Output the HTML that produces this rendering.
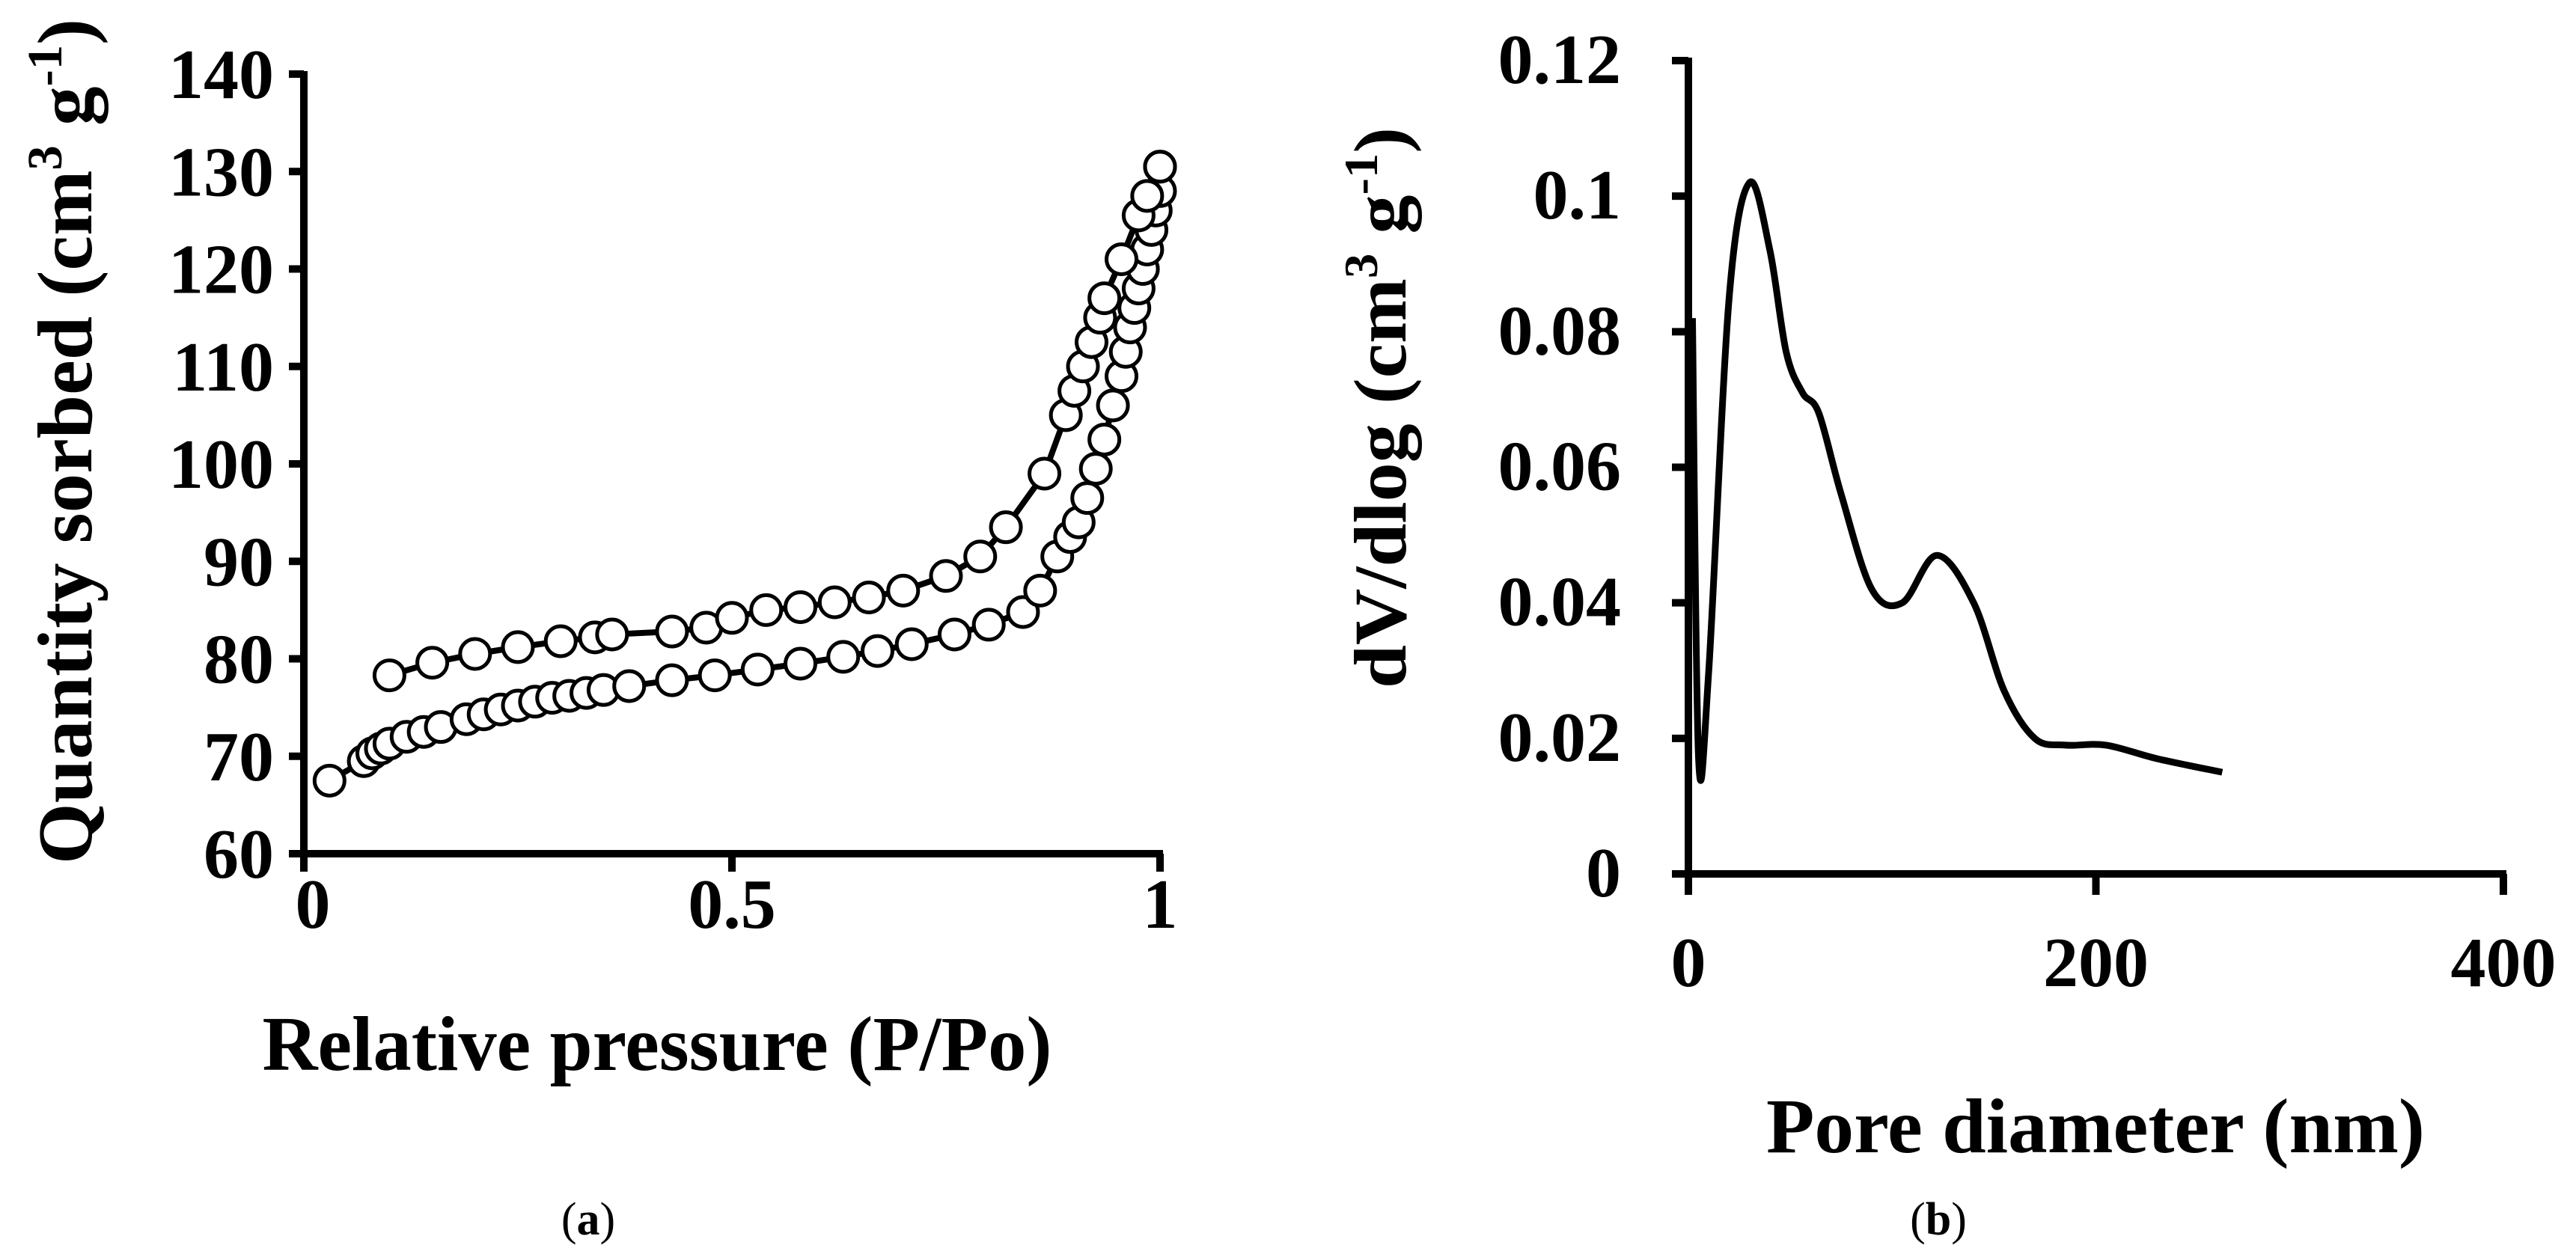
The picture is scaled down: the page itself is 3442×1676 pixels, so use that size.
<!DOCTYPE html>
<html><head><meta charset="utf-8"><style>
html,body{margin:0;padding:0;background:#fff;}
svg{display:block;font-family:"Liberation Serif",serif;}
</style></head><body>
<svg id="fig" width="3442" height="1676" viewBox="0 0 3442 1676" xmlns="http://www.w3.org/2000/svg">
<g id="chartA"></g>
<g id="chartB"></g>
<text x="786" y="1650" font-size="62" text-anchor="middle">(<tspan font-weight="bold">a</tspan>)</text>
<text x="2590" y="1650" font-size="62" text-anchor="middle">(<tspan font-weight="bold">b</tspan>)</text>
</svg>
<script>
// ---- Chart A data ----
const aTicksY = [60,70,80,90,100,110,120,130,140];
const aTicksX = [0,0.5,1];
const aTickLabelsX = ["0","0.5","1"];
const adsX = [0.03,0.07,0.08,0.09,0.1,0.12,0.14,0.16,0.19,0.21,0.23,0.25,0.27,0.29,0.31,0.33,0.35,0.38,0.43,0.48,0.53,0.58,0.63,0.67,0.71,0.76,0.8,0.84,0.86,0.88,0.895,0.905,0.915,0.925,0.935,0.945,0.955,0.96,0.965,0.97,0.975,0.98,0.985,0.99,0.995,1.0,1.0];
const adsY = [67.5,69.5,70.3,70.8,71.3,72,72.5,73,73.8,74.3,74.8,75.2,75.6,76,76.2,76.5,76.8,77.2,77.8,78.3,78.9,79.5,80.2,80.8,81.5,82.5,83.5,84.8,87,90.5,92.5,94,96.5,99.5,102.5,106,109,111.5,114,116,118,120,122,124,126,128,130.5];
const desX = [0.1,0.15,0.2,0.25,0.3,0.34,0.36,0.43,0.47,0.5,0.54,0.58,0.62,0.66,0.7,0.75,0.79,0.82,0.865,0.89,0.9,0.91,0.92,0.93,0.935,0.955,0.975,0.985,1.0];
const desY = [78.3,79.6,80.5,81.2,81.8,82.2,82.5,82.8,83.2,84.2,85,85.3,85.8,86.3,87,88.5,90.5,93.5,99,105,107.5,110,112.5,115,117,121,125.5,127.5,130.5];
// ---- Chart B data ----
const bTicksY = [0,0.02,0.04,0.06,0.08,0.1,0.12];
const bTickLabelsY = ["0","0.02","0.04","0.06","0.08","0.1","0.12"];
const bTicksX = [0,200,400];
const poreX = [2,5,10,20,30,40,48,56,64,75,90,105,122,140,155,170,185,205,230,262];
const poreY = [0.082,0.017,0.03,0.085,0.102,0.092,0.077,0.071,0.068,0.056,0.042,0.040,0.047,0.040,0.027,0.020,0.019,0.019,0.017,0.015];

const NS="http://www.w3.org/2000/svg";
function mk(tag,attrs,parent){const e=document.createElementNS(NS,tag);for(const k in attrs)e.setAttribute(k,attrs[k]);parent.appendChild(e);return e;}

// Chart A axes
const A={x0:406,x1:1550,yTop:99,yBot:1141,vmin:60,vmax:140};
const ax=v=>A.x0+(A.x1-A.x0)*v;
const ay=v=>A.yBot-(A.yBot-A.yTop)*(v-A.vmin)/(A.vmax-A.vmin);
const gA=document.getElementById('chartA');
let e;
e=mk('line',{x1:A.x0,y1:A.yTop-4,x2:A.x0,y2:A.yBot+4,stroke:'#000','stroke-width':10},gA);


e=mk('line',{x1:A.x0-4,y1:A.yBot,x2:A.x1+4,y2:A.yBot,stroke:'#000','stroke-width':10},gA);


aTicksY.forEach(v=>{
  const t=mk('line',{x1:A.x0-20,y1:ay(v),x2:A.x0,y2:ay(v),stroke:'#000','stroke-width':10},gA);
  
  
  const l=mk('text',{x:A.x0-40,y:ay(v)+32,'font-size':94,'font-weight':'bold','text-anchor':'end'},gA);
  l.textContent=String(v);
  
  
});
aTicksX.forEach((v,i)=>{
  const t=mk('line',{x1:ax(v),y1:A.yBot,x2:ax(v),y2:A.yBot+24,stroke:'#000','stroke-width':10},gA);
  
  
  const l=mk('text',{x:ax(v)+(i==0?12:0),y:1240,'font-size':94,'font-weight':'bold','text-anchor':'middle'},gA);
  l.textContent=aTickLabelsX[i];
  
  
});
function series(xs,ys,name){
  const g=mk('g',{},gA);
  
  
  mk('polyline',{points:xs.map((x,i)=>ax(x)+','+ay(ys[i])).join(' '),fill:'none',stroke:'#000','stroke-width':8},g);
  xs.forEach((x,i)=>{
    const c=mk('circle',{cx:ax(x),cy:ay(ys[i]),r:20,fill:'#fff',stroke:'#000','stroke-width':5},g);
    
    
  });
}
series(adsX,adsY,'adsorption-series');
series(desX,desY,'desorption-series');
e=mk('text',{x:878,y:1430,'font-size':104,'font-weight':'bold','text-anchor':'middle',textLength:1055,lengthAdjust:'spacingAndGlyphs'},gA);
e.textContent='Relative pressure (P/Po)';


e=mk('text',{x:0,y:0,'font-size':104,'font-weight':'bold','text-anchor':'middle',transform:'translate(122,590) rotate(-90)',textLength:1130,lengthAdjust:'spacingAndGlyphs'},gA);
e.innerHTML='Quantity sorbed (cm<tspan dy="-40" font-size="66">3</tspan><tspan dy="40"> g</tspan><tspan dy="-40" font-size="66">-1</tspan><tspan dy="40">)</tspan>';



// Chart B axes
const B={x0:2256,x1:3345,yTop:81,yBot:1168,vmin:0,vmax:0.12,xmax:400};
const bx=v=>B.x0+(B.x1-B.x0)*v/B.xmax;
const by=v=>B.yBot-(B.yBot-B.yTop)*(v-B.vmin)/(B.vmax-B.vmin);
const gB=document.getElementById('chartB');
e=mk('line',{x1:B.x0,y1:B.yTop-4,x2:B.x0,y2:B.yBot+4,stroke:'#000','stroke-width':10},gB);


e=mk('line',{x1:B.x0-4,y1:B.yBot,x2:B.x1+4,y2:B.yBot,stroke:'#000','stroke-width':10},gB);


bTicksY.forEach((v,i)=>{
  const t=mk('line',{x1:B.x0-22,y1:by(v),x2:B.x0,y2:by(v),stroke:'#000','stroke-width':10},gB);
  
  
  const l=mk('text',{x:B.x0-90,y:by(v)+30,'font-size':94,'font-weight':'bold','text-anchor':'end'},gB);
  l.textContent=bTickLabelsY[i];
  
  
});
bTicksX.forEach(v=>{
  const t=mk('line',{x1:bx(v),y1:B.yBot,x2:bx(v),y2:B.yBot+28,stroke:'#000','stroke-width':10},gB);
  
  
  const l=mk('text',{x:bx(v),y:1318,'font-size':94,'font-weight':'bold','text-anchor':'middle'},gB);
  l.textContent=String(v);
  
  
});
// smooth curve via Catmull-Rom
const pts=poreX.map((x,i)=>[bx(x),by(poreY[i])]);
let d='M'+pts[0][0]+','+pts[0][1];
for(let i=0;i<pts.length-1;i++){
  const p0=pts[Math.max(0,i-1)],p1=pts[i],p2=pts[i+1],p3=pts[Math.min(pts.length-1,i+2)];
  const c1=[p1[0]+(p2[0]-p0[0])/6,p1[1]+(p2[1]-p0[1])/6];
  const c2=[p2[0]-(p3[0]-p1[0])/6,p2[1]-(p3[1]-p1[1])/6];
  d+=' C'+c1[0]+','+c1[1]+' '+c2[0]+','+c2[1]+' '+p2[0]+','+p2[1];
}
e=mk('path',{d:d,fill:'none',stroke:'#000','stroke-width':9,'stroke-linejoin':'round'},gB);


e=mk('text',{x:2800,y:1540,'font-size':104,'font-weight':'bold','text-anchor':'middle',textLength:880,lengthAdjust:'spacingAndGlyphs'},gB);
e.textContent='Pore diameter (nm)';


e=mk('text',{x:0,y:0,'font-size':100,'font-weight':'bold','text-anchor':'middle',transform:'translate(1878,545) rotate(-90)',textLength:750,lengthAdjust:'spacingAndGlyphs'},gB);
e.innerHTML='dV/dlog (cm<tspan dy="-38" font-size="64">3</tspan><tspan dy="38"> g</tspan><tspan dy="-38" font-size="64">-1</tspan><tspan dy="38">)</tspan>';


</script>
</body></html>
